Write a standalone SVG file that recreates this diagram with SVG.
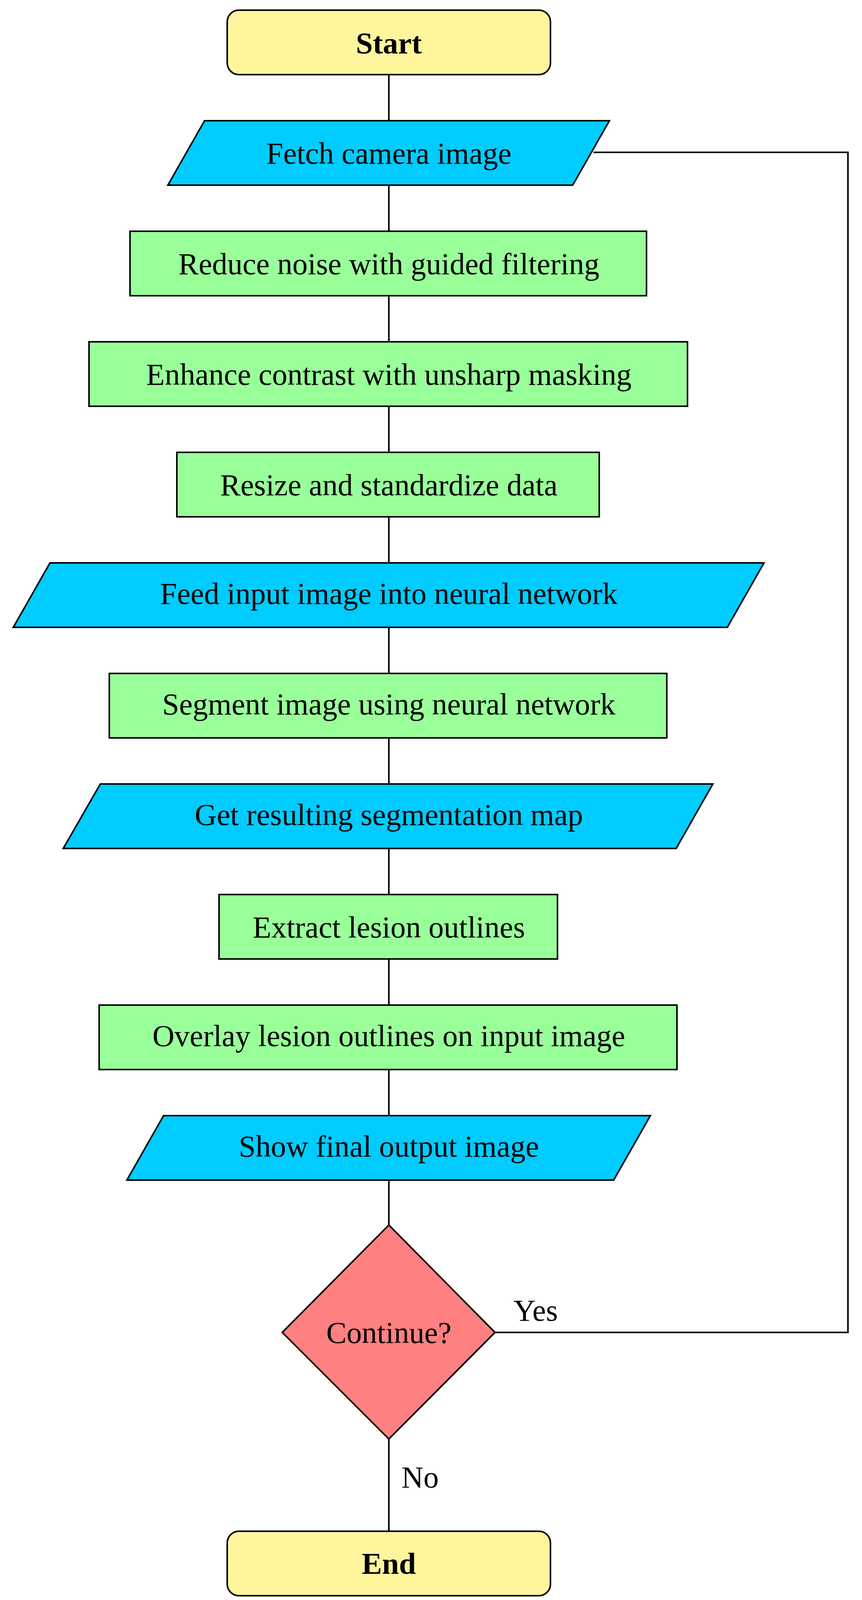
<svg xmlns="http://www.w3.org/2000/svg" width="2208" height="4115" viewBox="0 0 2208 4115">
<style>
.s{stroke:#000;stroke-width:4}
.y{fill:#fff59d}.c{fill:#00ccff}.g{fill:#99ff99}.r{fill:#ff8080}
text{font-family:"Liberation Serif","DejaVu Serif",serif;font-size:78px;text-anchor:middle;dominant-baseline:central;fill:#000}
.b{font-weight:bold}
.e{fill:none;stroke:#000;stroke-width:4;marker-end:url(#a)}
</style>
<defs><marker id="a" viewBox="0 0 10 10" refX="10" refY="5" markerWidth="6" markerHeight="6" markerUnits="userSpaceOnUse" orient="auto"><path d="M0,0 L10,5 L0,10 L3,5 Z" fill="#000" transform="scale(1)"/></marker></defs>
<rect width="2208" height="4115" fill="#fff"/>
<g id="connectors">
<path class="e" d="M996,191 V309"/>
<path class="e" d="M996,474 V592"/>
<path class="e" d="M996,757 V875"/>
<path class="e" d="M996,1040 V1158"/>
<path class="e" d="M996,1323 V1441"/>
<path class="e" d="M996,1606 V1724"/>
<path class="e" d="M996,1889 V2007"/>
<path class="e" d="M996,2172 V2290"/>
<path class="e" d="M996,2455 V2573"/>
<path class="e" d="M996,2738 V2856"/>
<path class="e" d="M996,3021 V3136"/>
<path class="e" d="M996,3684 V3920"/>
<path class="e" d="M1268,3411 H2172 V390 H1520"/>
<text x="1372" y="3354">Yes</text>
<text x="1076" y="3781">No</text>
</g>
<g id="start"><rect class="s y" x="582" y="26" width="828" height="165" rx="30"/><text class="b" x="996" y="110">Start</text></g>
<g id="fetch"><polygon class="s c" points="524,309 1561,309 1467,474 430,474"/><text x="996" y="392">Fetch camera image</text></g>
<g id="reduce"><rect class="s g" x="333" y="592" width="1323" height="165"/><text x="996" y="675">Reduce noise with guided filtering</text></g>
<g id="enhance"><rect class="s g" x="228" y="875" width="1533" height="165"/><text x="996" y="958">Enhance contrast with unsharp masking</text></g>
<g id="resize"><rect class="s g" x="453" y="1158" width="1082" height="165"/><text x="996" y="1241">Resize and standardize data</text></g>
<g id="feed"><polygon class="s c" points="128,1441 1957,1441 1863,1606 34,1606"/><text x="996" y="1519">Feed input image into neural network</text></g>
<g id="segment"><rect class="s g" x="280" y="1724" width="1428" height="165"/><text x="996" y="1802">Segment image using neural network</text></g>
<g id="get"><polygon class="s c" points="257,2007 1826,2007 1732,2172 162,2172"/><text x="996" y="2085">Get resulting segmentation map</text></g>
<g id="extract"><rect class="s g" x="561" y="2290" width="867" height="165"/><text x="996" y="2373">Extract lesion outlines</text></g>
<g id="overlay"><rect class="s g" x="254" y="2573" width="1480" height="165"/><text x="996" y="2651">Overlay lesion outlines on input image</text></g>
<g id="show"><polygon class="s c" points="419,2856 1666,2856 1572,3021 325,3021"/><text x="996" y="2934">Show final output image</text></g>
<g id="continue"><polygon class="s r" points="996,3136 1268,3411 996,3684 723,3411"/><text x="996" y="3411">Continue?</text></g>
<g id="end"><rect class="s y" x="582" y="3920" width="828" height="165" rx="30"/><text class="b" x="996" y="4002">End</text></g>
</svg>
